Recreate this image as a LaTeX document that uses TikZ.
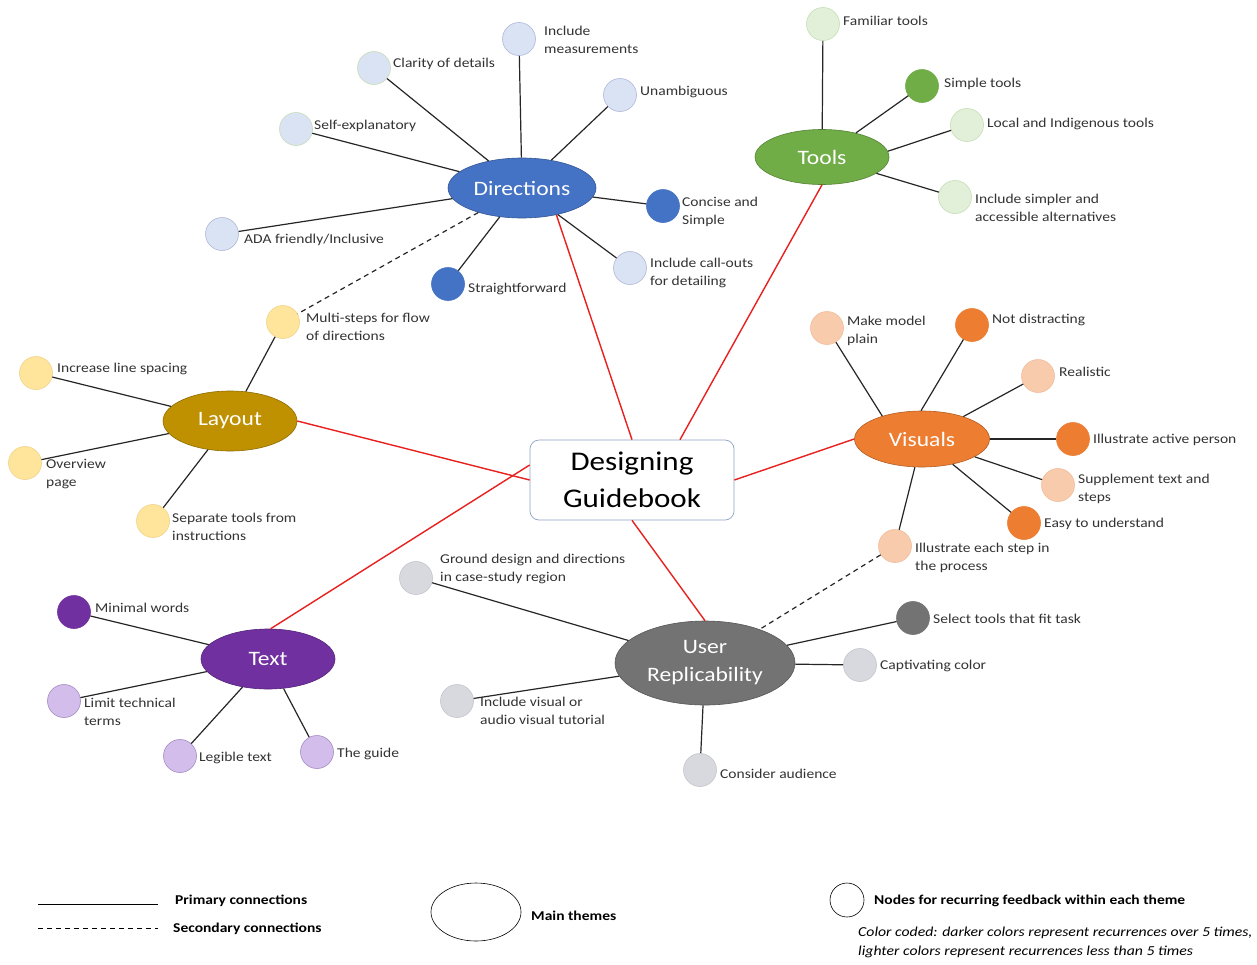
\documentclass[tikz,border=0pt]{standalone}
\usepackage{fontspec}
\setmainfont{Carlito}[FakeStretch=1.15]
\usetikzlibrary{shapes.geometric}
\definecolor{dirD}{HTML}{4472C4}\definecolor{dirL}{HTML}{DAE3F3}\definecolor{dirB}{HTML}{AFB9DA}
\definecolor{toolD}{HTML}{70AD47}\definecolor{toolL}{HTML}{E2F0D9}\definecolor{toolB}{HTML}{C5DEB6}
\definecolor{layD}{HTML}{BF9000}\definecolor{layL}{HTML}{FFE49C}\definecolor{layB}{HTML}{EFD58A}
\definecolor{visD}{HTML}{ED7D31}\definecolor{visL}{HTML}{F8CBAD}\definecolor{visB}{HTML}{F0BE9E}
\definecolor{txtD}{HTML}{7030A0}\definecolor{txtL}{HTML}{D3BDEA}\definecolor{txtB}{HTML}{A58CC6}
\definecolor{urD}{HTML}{737373}\definecolor{urL}{HTML}{D8D9DE}\definecolor{urB}{HTML}{C4C6CC}
\definecolor{lnred}{HTML}{E8201E}\definecolor{boxB}{HTML}{8FA2C6}\definecolor{txtc}{HTML}{333333}
\tikzset{
  leaf/.style args={#1/#2}{circle,minimum size=33pt,inner sep=0pt,fill=#1,draw=#2,line width=0.6pt},
  theme/.style args={#1/#2/#3}{ellipse,inner sep=0pt,minimum width=#2,minimum height=#3,fill=#1,draw=#1!75!black,line width=0.6pt,text=white,font=\fontsize{20.5}{24}\selectfont},
  lbl/.style={anchor=west,inner sep=0pt,align=left,text=txtc,font=\fontsize{13.5}{18.5}\selectfont},
  prim/.style={draw=black!85,line width=1.2pt},
  sec/.style={draw=black!85,line width=1.2pt,dash pattern=on 5pt off 4pt},
  redl/.style={draw=lnred,line width=1.4pt},
  legtxt/.style={anchor=west,inner sep=0pt,text=black,font=\bfseries\fontsize{13.5}{15}\selectfont}
}
\begin{document}
\begin{tikzpicture}[x=1pt,y=-1pt]
\useasboundingbox[fill=white] (0,0) rectangle (1257,964);
% centre
\node[draw=boxB,line width=0.7pt,rounded corners=9pt,fill=white,minimum width=204pt,minimum height=80pt,align=center,font=\fontsize{27}{37}\selectfont] (guide) at (632,480) {Designing\\Guidebook};
% themes
\node[theme=dirD/148pt/60pt] (dir) at (522,188) {Directions};
\node[theme=toolD/134pt/55pt] (tool) at (822,157) {Tools};
\node[theme=layD/134pt/60pt] (lay) at (230,421) {Layout};
\node[theme=visD/135pt/56pt] (vis) at (922,439) {Visuals};
\node[theme=txtD/134pt/60pt] (txt) at (268,659) {Text};
\node[theme=urD/180pt/84pt,align=center,font=\fontsize{20.5}{28}\selectfont] (ur) at (705,663) {User\\Replicability};
% red connections
\draw[redl] (dir.-38) -- (guide.north);
\draw[redl] (tool.south) -- ([xshift=48pt]guide.north);
\draw[redl] (lay.east) -- (guide.west);
\draw[redl] (vis.west) -- (guide.east);
\draw[redl] (txt.85) -- ([yshift=15pt]guide.west);
\draw[redl] (ur.north) -- (guide.south);
% Directions leaves
\node[leaf=dirL/dirB] (d1) at (519,39) {};
\node[leaf=dirL/toolB] (d2) at (374,68) {};
\node[leaf=dirL/dirB] (d3) at (620,95) {};
\node[leaf=dirL/toolB] (d4) at (296,129) {};
\node[leaf=dirD/dirD] (d5) at (663,206) {};
\node[leaf=dirL/dirB] (d6) at (222,234) {};
\node[leaf=dirL/dirB] (d7) at (630,268) {};
\node[leaf=dirD/dirD] (d8) at (448,284) {};
\node[lbl] (d1t) at (544,40) {Include\\measurements};
\node[lbl] (d2t) at (393,64) {Clarity of details};
\node[lbl] (d3t) at (640,92) {Unambiguous};
\node[lbl] (d4t) at (314,126) {Self-explanatory};
\node[lbl] (d5t) at (682,212) {Concise and\\Simple};
\node[lbl] (d6t) at (244,240) {ADA friendly/Inclusive};
\node[lbl] (d7t) at (650,273) {Include call-outs\\for detailing};
\node[lbl] (d8t) at (468,289) {Straightforward};
\foreach \n in {d1,d2,d3,d4,d5,d6,d7,d8} \draw[prim] (dir) -- (\n);
% Tools leaves
\node[leaf=toolL/toolB] (t1) at (823,24) {};
\node[leaf=toolD/toolD] (t2) at (922,86) {};
\node[leaf=toolL/toolB] (t3) at (967,125) {};
\node[leaf=toolL/toolB] (t4) at (955,197) {};
\node[lbl] (t1t) at (843,21) {Familiar tools};
\node[lbl] (t2t) at (944,84) {Simple tools};
\node[lbl] (t3t) at (987,124) {Local and Indigenous tools};
\node[lbl] (t4t) at (975,208) {Include simpler and\\accessible alternatives};
\draw[prim] (tool) -- (t1);
\draw[prim] (tool) -- (t2);
\draw[prim] (tool.5) -- (t3);
\draw[prim] (tool) -- (t4);
% Layout leaves
\node[leaf=layL/layB] (l1) at (283,322) {};
\node[leaf=layL/layB] (l2) at (36,373) {};
\node[leaf=layL/layB] (l3) at (25,463) {};
\node[leaf=layL/layB] (l4) at (153,521) {};
\node[lbl] (l1t) at (306,327) {Multi-steps for flow\\of directions};
\node[lbl] (l2t) at (57,369) {Increase line spacing};
\node[lbl] (l3t) at (46,474) {Overview\\page};
\node[lbl] (l4t) at (172,527) {Separate tools from\\instructions};
\foreach \n in {l1,l2,l3,l4} \draw[prim] (lay) -- (\n);
\draw[sec] (dir) -- (l1);
% Visuals leaves
\node[leaf=visL/visB] (v1) at (827,328) {};
\node[leaf=visD/visD] (v2) at (972,325) {};
\node[leaf=visL/visB] (v3) at (1038,376) {};
\node[leaf=visD/visD] (v4) at (1073,439) {};
\node[leaf=visL/visB] (v5) at (1058,485) {};
\node[leaf=visD/visD] (v6) at (1024,523) {};
\node[leaf=visL/visB] (v7) at (895,546) {};
\node[lbl] (v1t) at (847,331) {Make model\\plain};
\node[lbl] (v2t) at (992,320) {Not distracting};
\node[lbl] (v3t) at (1059,372) {Realistic};
\node[lbl] (v4t) at (1093,440) {Illustrate active person};
\node[lbl] (v5t) at (1078,489) {Supplement text and\\steps};
\node[lbl] (v6t) at (1044,524) {Easy to understand};
\node[lbl] (v7t) at (915,558) {Illustrate each step in\\the process};
\draw[prim] (vis.150) -- (v1);
\draw[prim] (vis.92) -- (v2);
\foreach \n in {v3,v4,v5,v6,v7} \draw[prim] (vis) -- (\n);
\draw[sec] (v7) -- (ur);
% Text leaves
\node[leaf=txtD/txtD] (x1) at (74,612) {};
\node[leaf=txtL/txtB] (x2) at (64,701) {};
\node[leaf=txtL/txtB] (x3) at (180,756) {};
\node[leaf=txtL/txtB] (x4) at (317,752) {};
\node[lbl] (x1t) at (95,608) {Minimal words};
\node[lbl] (x2t) at (84,712) {Limit technical\\terms};
\node[lbl] (x3t) at (199,758) {Legible text};
\node[lbl] (x4t) at (337,754) {The guide};
\foreach \n in {x1,x2,x3,x4} \draw[prim] (txt) -- (\n);
% User Replicability leaves
\node[leaf=urL/urB] (u1) at (416,578) {};
\node[leaf=urL/urB] (u2) at (457,701) {};
\node[leaf=urD/urD] (u3) at (913,618) {};
\node[leaf=urL/urB] (u4) at (860,665) {};
\node[leaf=urL/urB] (u5) at (700,770) {};
\node[lbl] (u1t) at (440,569) {Ground design and directions\\in case-study region};
\node[lbl] (u2t) at (480,711) {Include visual or\\audio visual tutorial};
\node[lbl] (u3t) at (933,619) {Select tools that fit task};
\node[lbl] (u4t) at (880,666) {Captivating color};
\node[lbl] (u5t) at (720,774) {Consider audience};
\foreach \n in {u1,u2,u3,u4,u5} \draw[prim] (ur) -- (\n);
% legend
\coordinate (p1) at (38,904); \coordinate (p2) at (158,904);
\coordinate (s1) at (38,928); \coordinate (s2) at (158,928);
\draw[draw=black,line width=0.9pt] (p1) -- (p2);
\draw[draw=black,line width=0.9pt,dash pattern=on 5pt off 4pt] (s1) -- (s2);
\node[legtxt] (lg1) at (175,901) {Primary connections};
\node[legtxt] (lg2) at (173,929) {Secondary connections};
\node[ellipse,draw=black,line width=0.6pt,minimum width=90pt,minimum height=58pt,inner sep=0pt] (lgm) at (476,912) {};
\node[legtxt] (lg3) at (531,916) {Main themes};
\node[ellipse,draw=black,line width=0.6pt,minimum width=34pt,minimum height=34pt,inner sep=0pt] (lgn) at (847,900) {};
\node[legtxt] (lg4) at (874,901) {Nodes for recurring feedback within each theme};
\node[anchor=west,inner sep=0pt,align=left,font=\itshape\fontsize{13.7}{19}\selectfont] (lg5) at (858,942) {Color coded: darker colors represent recurrences over 5 times,\\lighter colors represent recurrences less than 5 times};
\end{tikzpicture}
\end{document}
